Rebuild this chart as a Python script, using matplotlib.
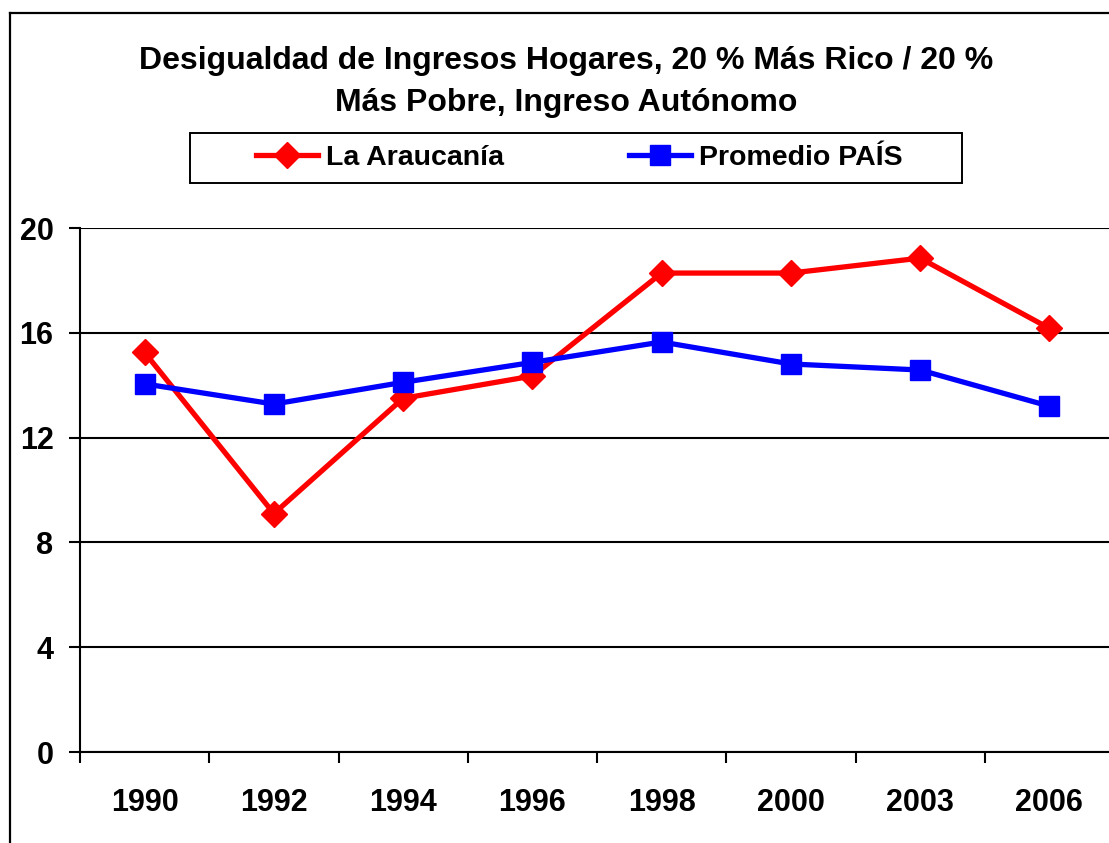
import matplotlib
matplotlib.use("Agg")
import matplotlib.pyplot as plt
from matplotlib.lines import Line2D
from matplotlib.patches import Rectangle

plt.rcParams['font.family'] = ['Liberation Sans', 'DejaVu Sans']

years = ["1990", "1992", "1994", "1996", "1998", "2000", "2003", "2006"]
araucania = [15.25, 9.1, 13.5, 14.35, 18.28, 18.28, 18.85, 16.17]
pais = [14.05, 13.28, 14.11, 14.87, 15.65, 14.81, 14.58, 13.2]
yticks = [0, 4, 8, 12, 16, 20]
title = "Desigualdad de Ingresos Hogares, 20 % Más Rico / 20 %\nMás Pobre, Ingreso Autónomo"

W, H = 1109, 843
fig = plt.figure(figsize=(W / 100, H / 100), dpi=100)

# outer chart border (right and bottom cut off)
fig.add_artist(Line2D([10 / W, 10 / W], [0, 1 - 13 / H], transform=fig.transFigure, color='black', lw=1.6))
fig.add_artist(Line2D([10 / W, 1], [1 - 13 / H, 1 - 13 / H], transform=fig.transFigure, color='black', lw=1.6))

ax = fig.add_axes([80 / W, (H - 752) / H, 1034 / W, 524 / H])
x = list(range(len(years)))
ax.plot(x, araucania, color='#FF0000', lw=3.8, marker='D', markersize=13, label='La Araucanía', zorder=3)
ax.plot(x, pais, color='#0000FF', lw=3.8, marker='s', markersize=14.5, label='Promedio PAÍS', zorder=3)

ax.set_xlim(-0.5, len(years) - 0.5)
ax.set_ylim(0, 20)
ax.set_yticks(yticks)
ax.set_yticklabels([str(v) for v in yticks], fontsize=22, fontweight='bold')
ax.set_xticks(x)
ax.set_xticklabels(years, fontsize=22, fontweight='bold')
ax.set_xticks([i - 0.5 for i in range(len(years) + 1)], minor=True)
ax.tick_params(axis='x', which='major', length=0, pad=26)
ax.tick_params(axis='x', which='minor', length=8, width=1.5, direction='out')
ax.tick_params(axis='y', length=8, width=1.5, direction='out', pad=11)
ax.yaxis.grid(True, color='black', lw=1.5)
ax.set_axisbelow(True)
for s in ['top', 'right']:
    ax.spines[s].set_visible(False)
for s in ['left', 'bottom']:
    ax.spines[s].set_linewidth(1.5)

fig.text(566 / W, 1 - 82 / H, title, ha='center', va='center', fontsize=23, fontweight='bold', linespacing=1.5)

# legend box
fig.add_artist(Rectangle((190 / W, 1 - 183 / H), 772 / W, 50 / H, transform=fig.transFigure,
                         fill=False, edgecolor='black', lw=1.4))
leg = fig.legend(loc='center left', bbox_to_anchor=(233 / W, 1 - 158 / H), ncol=2,
                 prop={'weight': 'bold', 'size': 20.5}, frameon=False,
                 handlelength=2.2, handletextpad=0.25, columnspacing=4.4, borderpad=0.3)

fig.savefig("out.png", dpi=100)
